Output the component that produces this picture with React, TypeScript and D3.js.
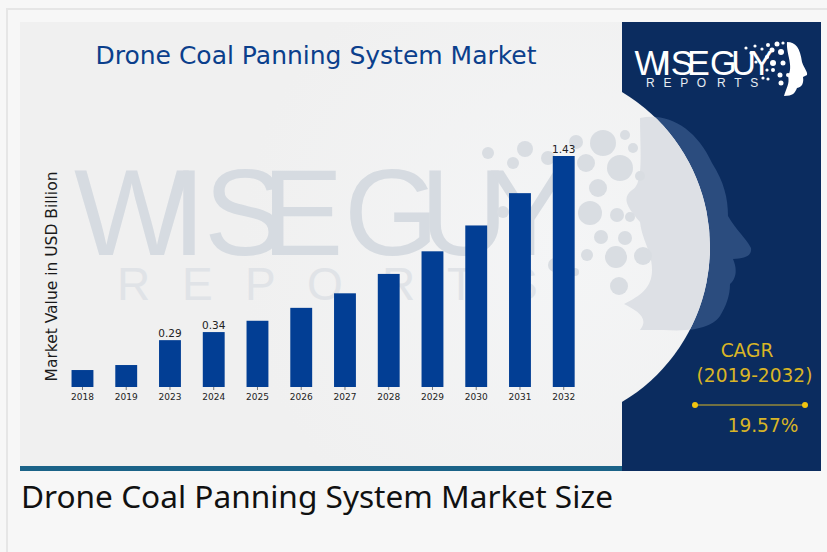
import * as d3 from 'd3';

const years = ['2018', '2019', '2023', '2024', '2025', '2026', '2027', '2028', '2029', '2030', '2031', '2032'];
const values = [0.105, 0.136, 0.29, 0.34, 0.41, 0.49, 0.58, 0.7, 0.84, 1.0, 1.2, 1.43];
const shownLabels = ['2023', '2024', '2032'];

// decoration only: the dots of the logo, [x, y, r]
const watermarkDots = [
  [488, 153, 6], [525, 149, 8], [513, 163, 6], [548, 158, 7], [576, 142, 7], [603, 143, 13],
  [625, 135, 5], [633, 148, 5], [586, 163, 9], [620, 168, 13], [640, 176, 5], [598, 188, 9],
  [590, 213, 12], [617, 215, 7], [630, 217, 5], [601, 237, 7], [625, 238, 7], [587, 255, 6],
  [616, 257, 11], [643, 256, 9], [619, 286, 9], [503, 212, 6], [555, 265, 7], [575, 272, 4],
];
const logoDots = [
  [746, 48, 1.6], [755, 46, 1.6], [751, 53, 1.6], [762, 49, 1.6], [768, 45, 2], [777, 44, 2.5], [783, 43, 1.6],
  [772, 50, 2.5], [781, 52, 3], [767, 57, 2], [756, 62, 1.6], [773, 63, 3], [783, 63, 2.5],
  [767, 70, 1.6], [780, 75, 2.5], [773, 70, 2], [763, 78, 1.6], [768, 79, 1.6], [781, 83, 2.5], [788, 75, 2],
];
// letter positions of the big watermark; the small logo is the same wordmark scaled down
const wiseGuyX = [74, 172, 204, 262, 330, 344, 420, 488];
const reportsX = [117, 182, 245, 307, 382, 447, 507];
const logoScale = d3.scaleLinear().domain([76, 555]).range([635, 769]);
const logoReports = d3.scaleLinear().domain([117, 532]).range([646, 757]);

const headPath = 'M640 118 C668 112 696 128 712 163 C724 182 728 198 728 216 C736 230 746 238 751 248 C752 256 746 258 733 259 C737 268 737 278 730 284 C730 296 726 306 720 316 C712 328 690 332 664 330 L640 330 C650 318 636 310 624 304 C640 296 652 288 652 270 C652 252 642 240 640 222 C626 206 622 198 632 190 C644 184 640 150 640 118 Z';
const logoHead = 'M787 42 C796 42 800 48 802 62 C804 68 808 72 807 75 L803 77 C804 83 802 87 797 88 C795 93 793 96 784 96 C786 88 790 84 788 76 C794 66 786 54 787 42 Z';

const navy = '#0b2c5f';
const gold = '#d9b526';
const dejavu = '"DejaVu Sans", sans-serif';
const liberation = '"Liberation Sans", sans-serif';

export default function App() {
  const x = d3.scaleBand<string>().domain(years).range([60.6, 585.6]).paddingInner(0.5).paddingOuter(0.25);
  const y = d3.scaleLinear().domain([0, 1.43]).range([387, 156]);

  return (
    <svg width={827} height={552} style={{ position: 'fixed', left: 0, top: 0, display: 'block' }}>
      <defs>
        <radialGradient id="card-fill" gradientUnits="userSpaceOnUse" cx={560} cy={250} r={320}>
          <stop offset="0%" stopColor="#f4f5f6" />
          <stop offset="100%" stopColor="#f0f0f0" />
        </radialGradient>
        <clipPath id="circle-clip">
          <circle cx={529.5} cy={247} r={180.5} />
        </clipPath>
        <clipPath id="card-clip">
          <rect x={20} y={22} width={801} height={449} />
        </clipPath>
      </defs>

      {/* page and card */}
      <rect width={827} height={552} fill="#f7f7f7" />
      <rect x={6} y={8} width={821} height={2} fill="#e6e6e6" />
      <rect x={6} y={8} width={2} height={544} fill="#e6e6e6" />
      <rect x={622} y={22} width={199} height={449} fill={navy} />
      <g clipPath="url(#card-clip)">
        <path d={headPath} fill="#2b4c7e" />
      </g>
      <rect x={20} y={22} width={602} height={444} fill="url(#card-fill)" />
      <circle cx={529.5} cy={247} r={180.5} fill="url(#card-fill)" />
      <rect x={20} y={466} width={602} height={5} fill="#1b6388" />

      {/* blown up logo behind the bars */}
      <g clipPath="url(#circle-clip)">
        <path d={headPath} fill="#dde0e5" />
      </g>
      <text x={wiseGuyX.join(' ')} y={255} fontFamily={liberation} fontSize={122} fill="#d6dbe1">WISE GUY</text>
      <text x={reportsX.join(' ')} y={300} fontFamily={liberation} fontSize={46} fill="#e0e3e7">REPORTS</text>
      {watermarkDots.map(([cx, cy, r], i) => (
        <circle key={i} cx={cx} cy={cy} r={r} fill="#d9dde2" />
      ))}

      <text x={316} y={64} textAnchor="middle" fontFamily={dejavu} fontSize={25} fill="#0b3f8c">
        Drone Coal Panning System Market
      </text>
      <text transform="translate(56.5,276.5) rotate(-90)" textAnchor="middle" fontFamily={dejavu} fontSize={15.5} fill="#1a1a1a">
        Market Value in USD Billion
      </text>

      {/* bars */}
      {years.map((year, i) => {
        const bx = x(year) as number;
        const cx = bx + x.bandwidth() / 2;
        return (
          <g key={year}>
            <rect x={bx} y={y(values[i])} width={x.bandwidth()} height={y(0) - y(values[i])} fill="#023e94" />
            <line x1={cx} x2={cx} y1={387} y2={390} stroke="#444" strokeWidth={0.7} />
            <text x={cx} y={400} textAnchor="middle" fontFamily={dejavu} fontSize={9} fill="#222">{year}</text>
            {shownLabels.includes(year) && (
              <text x={cx} y={y(values[i]) - 3} textAnchor="middle" fontFamily={dejavu} fontSize={10.5} fill="#222">
                {values[i].toFixed(2)}
              </text>
            )}
          </g>
        );
      })}

      {/* logo */}
      <text x={wiseGuyX.map(logoScale).join(' ')} y={74.5} fontFamily={liberation} fontSize={34.2} fill="#ffffff">WISE GUY</text>
      <text x={reportsX.map(logoReports).join(' ')} y={87} fontFamily={liberation} fontSize={12} fill="#e8edf3">REPORTS</text>
      {logoDots.map(([cx, cy, r], i) => (
        <circle key={i} cx={cx} cy={cy} r={r} fill="#ffffff" />
      ))}
      <path d={logoHead} fill="#ffffff" />

      {/* CAGR */}
      <text x={747} y={357} textAnchor="middle" fontFamily={dejavu} fontSize={18.6} fill={gold}>CAGR</text>
      <text x={754.5} y={382} textAnchor="middle" fontFamily={dejavu} fontSize={18.6} fill={gold}>(2019-2032)</text>
      <line x1={695} x2={805} y1={405} y2={405} stroke={gold} strokeWidth={1} />
      <circle cx={695} cy={405} r={3} fill="#f2c40f" />
      <circle cx={805} cy={405} r={3} fill="#f2c40f" />
      <text x={763} y={432} textAnchor="middle" fontFamily={dejavu} fontSize={18.6} fill={gold}>19.57%</text>

      <text x={21} y={508} fontFamily='"Noto Sans", sans-serif' fontSize={31.6} fill="#111">
        Drone Coal Panning System Market Size
      </text>
    </svg>
  );
}
